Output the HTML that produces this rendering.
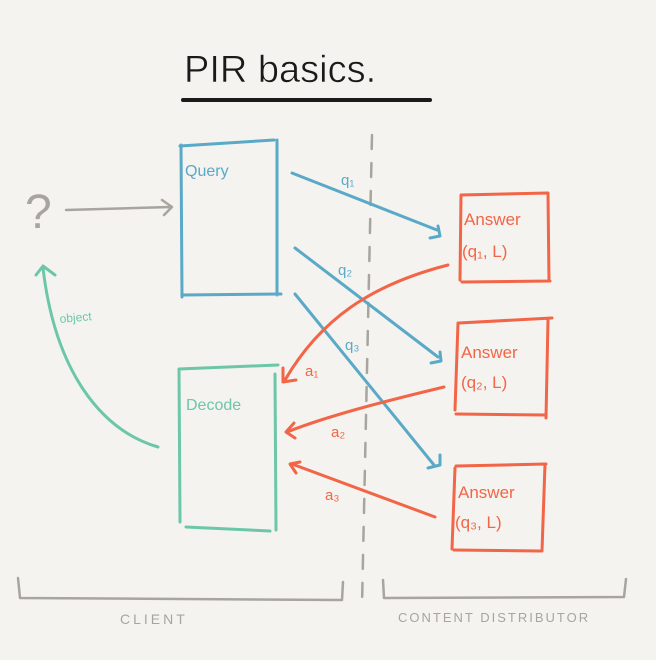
<!DOCTYPE html>
<html><head><style>
html,body{margin:0;padding:0;background:#f4f3f0;}
svg{display:block}
text{font-family:"Liberation Sans",sans-serif}
</style></head><body>
<svg width="656" height="660" viewBox="0 0 656 660" xmlns="http://www.w3.org/2000/svg">
<rect width="656" height="660" fill="#f4f3f0"/>
<g fill="none" stroke-linecap="round" stroke-linejoin="round">
<path d="M183 100 L430 100" stroke="#1a1a1a" stroke-width="4"/>
<path d="M372 135 L362 605" stroke="#a8a59f" stroke-width="2.5" stroke-dasharray="14 14"/>
<path d="M66 210 L170 207 M162 200 L172 207 L164 215" stroke="#a8a59f" stroke-width="2.5"/>
<path d="M180 146 L274 140 M277 140 L277 295 M182 295 L281 294 M181 145 L182 297" stroke="#5aa9c7" stroke-width="3"/>
<path d="M179 369 L278 365 M179 369 L180 522 M186 527 L270 531 M275 374 L276 530" stroke="#6cc7a8" stroke-width="3"/>
<path d="M158 447 C100 430 55 370 43 268 M36 275 L43 266 L55 275" stroke="#6cc7a8" stroke-width="3"/>
<path d="M292 173 L437 230 M430 238 L440 236 L438 226" stroke="#5aa9c7" stroke-width="3"/>
<path d="M295 248 L438 357 M431 363 L441 361 L440 352" stroke="#5aa9c7" stroke-width="3"/>
<path d="M295 294 L434 465 M428 468 L440 465 L440 455" stroke="#5aa9c7" stroke-width="3"/>
<path d="M461 195 L548 193 M461 195 L460 280 M462 282 L550 281 M548 193 L549 281" stroke="#f26546" stroke-width="3"/>
<path d="M459 323 L552 318 M455 410 L458 323 M456 414 L546 415 M548 320 L546 418" stroke="#f26546" stroke-width="3"/>
<path d="M456 466 L546 464 M452 549 L455 468 M454 550 L540 551 M545 464 L542 551" stroke="#f26546" stroke-width="3"/>
<path d="M448 265 C370 285 320 320 285 380 M283 368 L283 382 L296 380" stroke="#f26546" stroke-width="3"/>
<path d="M444 387 C390 400 330 415 287 432 M294 423 L286 432 L295 438" stroke="#f26546" stroke-width="3"/>
<path d="M435 517 L292 464 M300 462 L290 464 L296 473" stroke="#f26546" stroke-width="3"/>
<path d="M18 578 L20 598 L342 600 L343 582" stroke="#a8a59f" stroke-width="2.5"/>
<path d="M383 580 L384 598 L624 597 L626 579" stroke="#a8a59f" stroke-width="2.5"/>
</g>
<text x="184" y="82" font-size="38" fill="#1a1a1a" stroke="#f4f3f0" stroke-width="0.6">PIR basics.</text>
<text x="25" y="228" font-size="48" fill="#a8a59f">?</text>
<text x="185" y="176" font-size="16" fill="#5aa9c7">Query</text>
<text x="186" y="410" font-size="16" fill="#6cc7a8">Decode</text>
<text x="60" y="323" font-size="12" fill="#6cc7a8" transform="rotate(-5 60 323)">object</text>
<g font-size="17" fill="#f26546">
<text x="464" y="225">Answer</text><text x="462" y="257">(q₁, L)</text>
<text x="461" y="358">Answer</text><text x="461" y="388">(q₂, L)</text>
<text x="458" y="498">Answer</text><text x="455" y="528">(q₃, L)</text>
<text x="305" y="376" font-size="15">a₁</text>
<text x="331" y="437" font-size="15">a₂</text>
<text x="325" y="500" font-size="15">a₃</text>
</g>
<g font-size="15" fill="#5aa9c7">
<text x="341" y="185">q₁</text>
<text x="338" y="275">q₂</text>
<text x="345" y="350">q₃</text>
</g>
<text x="120" y="624" font-size="14" fill="#a8a59f" letter-spacing="3">CLIENT</text>
<text x="398" y="622" font-size="13" fill="#a8a59f" letter-spacing="2">CONTENT DISTRIBUTOR</text>
</svg>
</body></html>
